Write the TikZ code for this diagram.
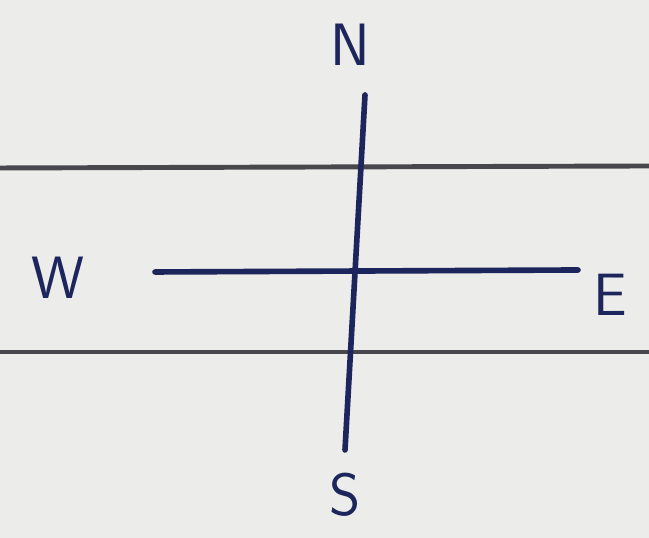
\documentclass[tikz,border=0pt]{standalone}
\usepackage{xcolor}
\usetikzlibrary{positioning}
\definecolor{ink}{RGB}{28,38,92}
\definecolor{rule}{RGB}{72,72,76}
\definecolor{paper}{RGB}{236,236,234}

\begin{document}
\begin{tikzpicture}[
  x=1cm, y=1cm,
  every node/.style={font=\fontsize{17}{17}\sffamily, text=ink, inner sep=0pt},
  ruleline/.style={draw=rule, line width=1.4pt},
  axis/.style={draw=ink, line width=1.6pt, line cap=round}
]

%% --- paper ----------------------------------------------------
\fill[paper] (0,0) rectangle (6.49,5.38);
\useasboundingbox (0,0) rectangle (6.49,5.38);

%% --- ruled lines ----------------------------------------------
\coordinate (r1w) at (0,3.70);
\coordinate (r1e) at (6.49,3.72);
\coordinate (r2w) at (0,1.86);
\coordinate (r2e) at (6.49,1.86);
\draw[ruleline] (r1w) -- (r1e);
\draw[ruleline] (r2w) -- (r2e);

%% --- compass cross --------------------------------------------
\coordinate (top)    at (3.65,4.43);
\coordinate (bottom) at (3.45,0.88);
\coordinate (left)   at (1.55,2.66);
\coordinate (right)  at (5.78,2.68);
\draw[axis] (top) -- (bottom);
\draw[axis] (left) -- (right);

%% --- labels ---------------------------------------------------
\node (N) at (3.50,4.93) {N};
\node (S) at (3.45,0.43) {S};
\node (W) at (0.58,2.60) {W};
\node (E) at (6.10,2.43) {E};

\end{tikzpicture}
\end{document}
